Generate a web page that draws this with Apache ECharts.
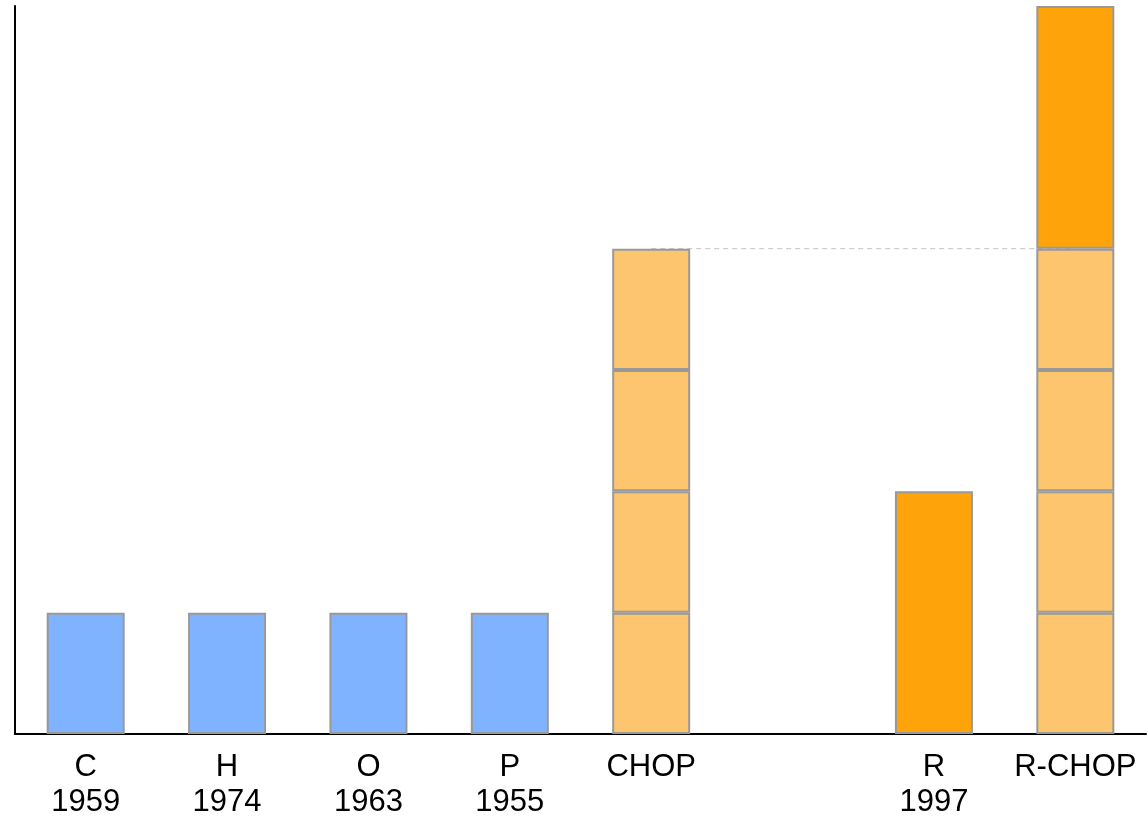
<!DOCTYPE html>
<html>
<head>
<meta charset="utf-8">
<script src="https://cdn.jsdelivr.net/npm/echarts@6/dist/echarts.min.js"></script>
<style>
  html, body { margin: 0; padding: 0; background: #fff; }
  #chart { width: 1148px; height: 820px; }
</style>
</head>
<body>
<div id="chart"></div>
<script>
// Drug names and year of introduction (blank slot separates the two regimens)
const drugs = ['C', 'H', 'O', 'P', 'CHOP', '', 'R', 'R-CHOP'];
const years = ['1959', '1974', '1963', '1955', '', '', '1997', ''];

// Stacked units per bar
const singleUnits = [1, 1, 1, 1, null, null, null, null];      // single agents
const chopSeg1 = [null, null, null, null, 1, null, null, 1];   // C part of CHOP
const chopSeg2 = [null, null, null, null, 1, null, null, 1];   // H part
const chopSeg3 = [null, null, null, null, 1, null, null, 1];   // O part
const chopSeg4 = [null, null, null, null, 1, null, null, 1];   // P part
const rituxUnits = [null, null, null, null, null, null, 2, 2]; // rituximab
const chopLevel = [null, null, null, null, 4, 4, 4, 4];        // CHOP reference height

const BLUE = '#80b3ff';
const LIGHT = '#fdc66e';
const DARK = '#ffa30a';
const EDGE = '#999999';

const labels = drugs.map((d, i) => years[i] ? d + '\n' + years[i] : d);

function barSeries(name, data, color) {
  return {
    name: name,
    type: 'bar',
    stack: 'total',
    barWidth: 78,
    z: 3,
    data: data,
    itemStyle: { color: color, borderColor: EDGE, borderWidth: 2 },
    emphasis: { disabled: true }
  };
}

const chart = echarts.init(document.getElementById('chart'), null, { renderer: 'canvas' });
chart.setOption({
  animation: false,
  grid: { left: 15, right: 2, top: 6, bottom: 85, containLabel: false },
  xAxis: {
    type: 'category',
    data: labels,
    axisLine: { show: true, lineStyle: { color: '#000', width: 2 } },
    axisTick: { show: false },
    axisLabel: {
      interval: 0,
      color: '#000',
      fontFamily: 'Liberation Sans, Arial, sans-serif',
      fontSize: 31,
      lineHeight: 35,
      margin: 16
    }
  },
  yAxis: {
    type: 'value',
    min: 0,
    max: 6,
    interval: 1,
    axisLine: { show: true, lineStyle: { color: '#000', width: 2 } },
    axisTick: { show: false },
    axisLabel: { show: false },
    splitLine: { show: false }
  },
  series: [
    barSeries('single', singleUnits, BLUE),
    barSeries('chop1', chopSeg1, LIGHT),
    barSeries('chop2', chopSeg2, LIGHT),
    barSeries('chop3', chopSeg3, LIGHT),
    barSeries('chop4', chopSeg4, LIGHT),
    barSeries('rituximab', rituxUnits, DARK),
    {
      name: 'chopLevel',
      type: 'line',
      data: chopLevel,
      z: 1,
      symbol: 'none',
      lineStyle: { color: '#c4c4c4', width: 1, type: [5, 4] },
      emphasis: { disabled: true }
    }
  ]
});
</script>
</body>
</html>
